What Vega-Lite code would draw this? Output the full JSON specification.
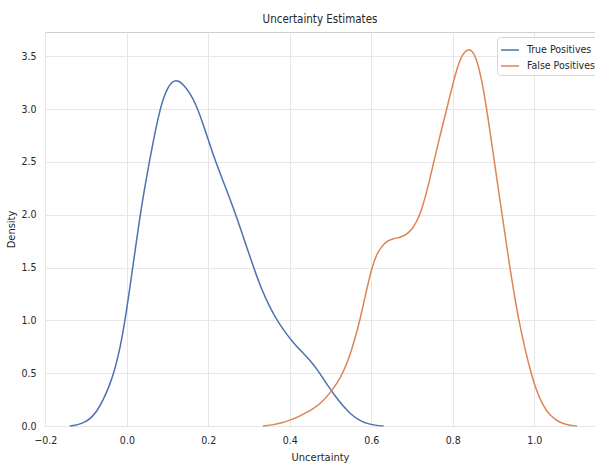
{
  "$schema": "https://vega.github.io/schema/vega-lite/v6.json",
  "width": 550,
  "height": 394,
  "autosize": {"type": "none"},
  "padding": {"left": 45, "top": 32, "right": 0, "bottom": 38},
  "background": "white",
  "title": {"text": "Uncertainty Estimates", "font": "DejaVu Sans Condensed", "fontSize": 11.5, "fontWeight": "normal", "color": "#262626", "offset": 7, "anchor": "middle"},
  "config": {
    "view": {"stroke": "#d0d0d0", "strokeWidth": 1},
    "axis": {"labelFont": "DejaVu Sans Condensed", "titleFont": "DejaVu Sans Condensed", "labelFontSize": 10.5, "titleFontSize": 11, "titleFontWeight": "normal", "labelColor": "#262626", "titleColor": "#262626", "gridColor": "#e6e6e6", "gridWidth": 1, "domain": false, "ticks": false, "tickSize": 0}
  },
  "data": {"values": [
    {"s": "True Positives", "x": -0.14, "y": 0.0},
    {"s": "True Positives", "x": -0.127, "y": 0.006},
    {"s": "True Positives", "x": -0.115, "y": 0.019},
    {"s": "True Positives", "x": -0.103, "y": 0.038},
    {"s": "True Positives", "x": -0.091, "y": 0.065},
    {"s": "True Positives", "x": -0.074, "y": 0.136},
    {"s": "True Positives", "x": -0.058, "y": 0.246},
    {"s": "True Positives", "x": -0.042, "y": 0.39},
    {"s": "True Positives", "x": -0.03, "y": 0.53},
    {"s": "True Positives", "x": -0.017, "y": 0.73},
    {"s": "True Positives", "x": -0.005, "y": 0.99},
    {"s": "True Positives", "x": 0.007, "y": 1.3},
    {"s": "True Positives", "x": 0.018, "y": 1.6},
    {"s": "True Positives", "x": 0.03, "y": 1.93},
    {"s": "True Positives", "x": 0.042, "y": 2.22},
    {"s": "True Positives", "x": 0.055, "y": 2.5},
    {"s": "True Positives", "x": 0.067, "y": 2.74},
    {"s": "True Positives", "x": 0.079, "y": 2.96},
    {"s": "True Positives", "x": 0.09, "y": 3.11},
    {"s": "True Positives", "x": 0.1, "y": 3.2},
    {"s": "True Positives", "x": 0.11, "y": 3.255},
    {"s": "True Positives", "x": 0.12, "y": 3.275},
    {"s": "True Positives", "x": 0.13, "y": 3.26},
    {"s": "True Positives", "x": 0.14, "y": 3.225},
    {"s": "True Positives", "x": 0.155, "y": 3.15},
    {"s": "True Positives", "x": 0.17, "y": 3.04},
    {"s": "True Positives", "x": 0.185, "y": 2.88},
    {"s": "True Positives", "x": 0.2, "y": 2.71},
    {"s": "True Positives", "x": 0.215, "y": 2.53},
    {"s": "True Positives", "x": 0.235, "y": 2.33},
    {"s": "True Positives", "x": 0.26, "y": 2.08},
    {"s": "True Positives", "x": 0.285, "y": 1.8},
    {"s": "True Positives", "x": 0.31, "y": 1.51},
    {"s": "True Positives", "x": 0.33, "y": 1.3},
    {"s": "True Positives", "x": 0.35, "y": 1.13},
    {"s": "True Positives", "x": 0.37, "y": 0.99},
    {"s": "True Positives", "x": 0.39, "y": 0.88},
    {"s": "True Positives", "x": 0.41, "y": 0.78},
    {"s": "True Positives", "x": 0.43, "y": 0.7},
    {"s": "True Positives", "x": 0.45, "y": 0.62},
    {"s": "True Positives", "x": 0.47, "y": 0.52},
    {"s": "True Positives", "x": 0.49, "y": 0.4},
    {"s": "True Positives", "x": 0.51, "y": 0.29},
    {"s": "True Positives", "x": 0.53, "y": 0.19},
    {"s": "True Positives", "x": 0.55, "y": 0.11},
    {"s": "True Positives", "x": 0.57, "y": 0.055},
    {"s": "True Positives", "x": 0.59, "y": 0.022},
    {"s": "True Positives", "x": 0.61, "y": 0.007},
    {"s": "True Positives", "x": 0.63, "y": 0.0},
    {"s": "False Positives", "x": 0.334, "y": 0.0},
    {"s": "False Positives", "x": 0.36, "y": 0.012},
    {"s": "False Positives", "x": 0.38, "y": 0.03},
    {"s": "False Positives", "x": 0.4, "y": 0.055},
    {"s": "False Positives", "x": 0.42, "y": 0.085},
    {"s": "False Positives", "x": 0.44, "y": 0.125},
    {"s": "False Positives", "x": 0.46, "y": 0.17},
    {"s": "False Positives", "x": 0.48, "y": 0.23},
    {"s": "False Positives", "x": 0.5, "y": 0.32},
    {"s": "False Positives", "x": 0.515, "y": 0.4},
    {"s": "False Positives", "x": 0.53, "y": 0.5},
    {"s": "False Positives", "x": 0.545, "y": 0.64},
    {"s": "False Positives", "x": 0.558, "y": 0.8},
    {"s": "False Positives", "x": 0.572, "y": 1.0},
    {"s": "False Positives", "x": 0.586, "y": 1.25},
    {"s": "False Positives", "x": 0.6, "y": 1.48},
    {"s": "False Positives", "x": 0.612, "y": 1.62},
    {"s": "False Positives", "x": 0.625, "y": 1.7},
    {"s": "False Positives", "x": 0.64, "y": 1.755},
    {"s": "False Positives", "x": 0.655, "y": 1.775},
    {"s": "False Positives", "x": 0.67, "y": 1.785},
    {"s": "False Positives", "x": 0.685, "y": 1.81},
    {"s": "False Positives", "x": 0.7, "y": 1.86},
    {"s": "False Positives", "x": 0.712, "y": 1.94},
    {"s": "False Positives", "x": 0.723, "y": 2.04},
    {"s": "False Positives", "x": 0.737, "y": 2.23},
    {"s": "False Positives", "x": 0.752, "y": 2.48},
    {"s": "False Positives", "x": 0.768, "y": 2.74},
    {"s": "False Positives", "x": 0.785, "y": 3.0},
    {"s": "False Positives", "x": 0.8, "y": 3.24},
    {"s": "False Positives", "x": 0.813, "y": 3.42},
    {"s": "False Positives", "x": 0.825, "y": 3.53},
    {"s": "False Positives", "x": 0.838, "y": 3.57},
    {"s": "False Positives", "x": 0.848, "y": 3.55},
    {"s": "False Positives", "x": 0.857, "y": 3.49},
    {"s": "False Positives", "x": 0.87, "y": 3.3},
    {"s": "False Positives", "x": 0.882, "y": 3.03},
    {"s": "False Positives", "x": 0.892, "y": 2.77},
    {"s": "False Positives", "x": 0.902, "y": 2.5},
    {"s": "False Positives", "x": 0.921, "y": 2.0},
    {"s": "False Positives", "x": 0.94, "y": 1.5},
    {"s": "False Positives", "x": 0.951, "y": 1.24},
    {"s": "False Positives", "x": 0.962, "y": 1.0},
    {"s": "False Positives", "x": 0.977, "y": 0.73},
    {"s": "False Positives", "x": 0.992, "y": 0.5},
    {"s": "False Positives", "x": 1.005, "y": 0.34},
    {"s": "False Positives", "x": 1.02, "y": 0.2},
    {"s": "False Positives", "x": 1.038, "y": 0.1},
    {"s": "False Positives", "x": 1.063, "y": 0.03},
    {"s": "False Positives", "x": 1.085, "y": 0.007},
    {"s": "False Positives", "x": 1.105, "y": 0.0}
  ]},
  "mark": {"type": "line", "interpolate": "basis", "strokeWidth": 1.5},
  "encoding": {
    "x": {"field": "x", "type": "quantitative", "title": "Uncertainty",
      "scale": {"domain": [-0.201, 1.149], "nice": false, "zero": false},
      "axis": {"values": [-0.2, 0, 0.2, 0.4, 0.6, 0.8, 1.0], "format": ".1f", "labelPadding": 9, "titlePadding": 6, "labelFlush": false}},
    "y": {"field": "y", "type": "quantitative", "title": "Density",
      "scale": {"domain": [0, 3.73], "nice": false},
      "axis": {"values": [0, 0.5, 1, 1.5, 2, 2.5, 3, 3.5], "format": ".1f", "labelPadding": 9, "titlePadding": 4}},
    "color": {"field": "s", "type": "nominal", "sort": ["True Positives", "False Positives"],
      "scale": {"domain": ["True Positives", "False Positives"], "range": ["#4c72b0", "#dd8452"]},
      "legend": {"title": null, "orient": "none", "legendX": 452, "legendY": 5, "symbolType": "stroke", "symbolSize": 324, "symbolStrokeWidth": 1.5, "labelFont": "DejaVu Sans Condensed", "labelFontSize": 10.5, "labelColor": "#262626", "labelOffset": 7, "rowPadding": 0, "padding": 3, "fillColor": "rgba(255,255,255,0.8)", "strokeColor": "#d6d6d6", "cornerRadius": 3}}
  }
}
